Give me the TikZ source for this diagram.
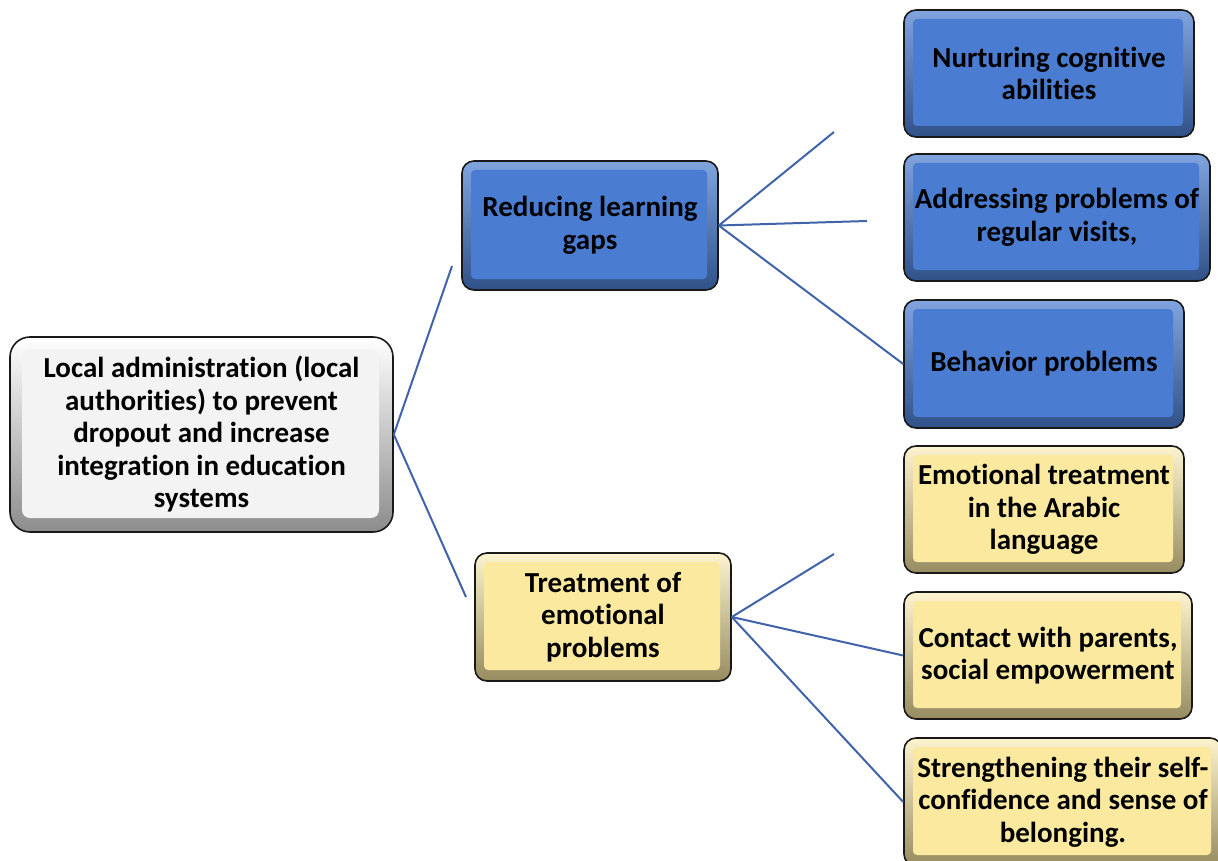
\documentclass[tikz,border=0pt]{standalone}
\usepackage{fontspec}
\setmainfont{Carlito}[Ligatures=NoCommon]
\definecolor{boxblue}{HTML}{4A7DD1}
\definecolor{boxyellow}{HTML}{FBE9A0}
\definecolor{boxgray}{HTML}{F3F3F3}
\definecolor{linkblue}{HTML}{4063AA}
\begin{document}
\begin{tikzpicture}[x=1pt, y=-1pt,
  box/.style={draw=black!90, line width=1.6pt, rounded corners=12pt, inner sep=0pt, align=center, font=\bfseries\fontsize{29}{32.5}\selectfont},
  bluebox/.style={box, top color=boxblue!70!white, bottom color=boxblue!65!black,
    path picture={\fill[boxblue, rounded corners=4pt] ([xshift=9pt,yshift=-9pt]path picture bounding box.north west) rectangle ([xshift=-11pt,yshift=11pt]path picture bounding box.south east);}},
  yellowbox/.style={box, top color=boxyellow!50!white, bottom color=boxyellow!60!black,
    path picture={\fill[boxyellow, rounded corners=4pt] ([xshift=9pt,yshift=-9pt]path picture bounding box.north west) rectangle ([xshift=-11pt,yshift=11pt]path picture bounding box.south east);}},
  graybox/.style={box, rounded corners=20pt, top color=white, bottom color=black!45,
    path picture={\fill[boxgray, rounded corners=8pt] ([xshift=12pt,yshift=-12pt]path picture bounding box.north west) rectangle ([xshift=-14pt,yshift=14pt]path picture bounding box.south east);}},
  link/.style={draw=linkblue, line width=2pt},
]
\useasboundingbox (0,0) rectangle (1218,861);
\clip (0,0) rectangle (1218,861);

% root
\node[graybox, minimum width=383pt, minimum height=195pt] (admin) at (201.5,434.5)
  {Local administration (local\\authorities) to prevent\\dropout and increase\\integration in education\\systems};

% first branch
\node[bluebox, minimum width=256pt, minimum height=129pt] (gaps) at (590,225.5) {Reducing learning\\gaps};
\node[bluebox, minimum width=290pt, minimum height=127pt] (cognitive) at (1049,73.5) {Nurturing cognitive\\abilities};
\node[bluebox, minimum width=306pt, minimum height=127pt] (visits) at (1057,217.5) {Addressing problems of\\regular visits,};
\node[bluebox, minimum width=280pt, minimum height=128pt] (behavior) at (1044,364) {Behavior problems};

% second branch
\node[yellowbox, minimum width=256pt, minimum height=128pt] (emotional) at (603,617) {Treatment of\\emotional\\problems};
\node[yellowbox, minimum width=280pt, minimum height=127pt] (arabic) at (1044,509.5) {Emotional treatment\\in the Arabic\\language};
\node[yellowbox, minimum width=288pt, minimum height=127pt] (parents) at (1048,655.5) {Contact with parents,\\social empowerment};
\node[yellowbox, minimum width=318pt, minimum height=128pt] (belonging) at (1063,802) {Strengthening their self-\\confidence and sense of\\belonging.};

% free ends of the connectors
\coordinate (gapsend) at (452,266);
\coordinate (emotionalend) at (466,597);
\coordinate (cognitiveend) at (834,132);
\coordinate (visitsend) at (867,221);
\coordinate (arabicend) at (834,554);

\draw[link] (admin.east) -- (gapsend);
\draw[link] (admin.east) -- (emotionalend);
\draw[link] (gaps.east) -- (cognitiveend);
\draw[link] (gaps.east) -- (visitsend);
\draw[link] (gaps.east) -- (behavior.west);
\draw[link] (emotional.east) -- (arabicend);
\draw[link] (emotional.east) -- (parents.west);
\draw[link] (emotional.east) -- (belonging.west);
\end{tikzpicture}
\end{document}
